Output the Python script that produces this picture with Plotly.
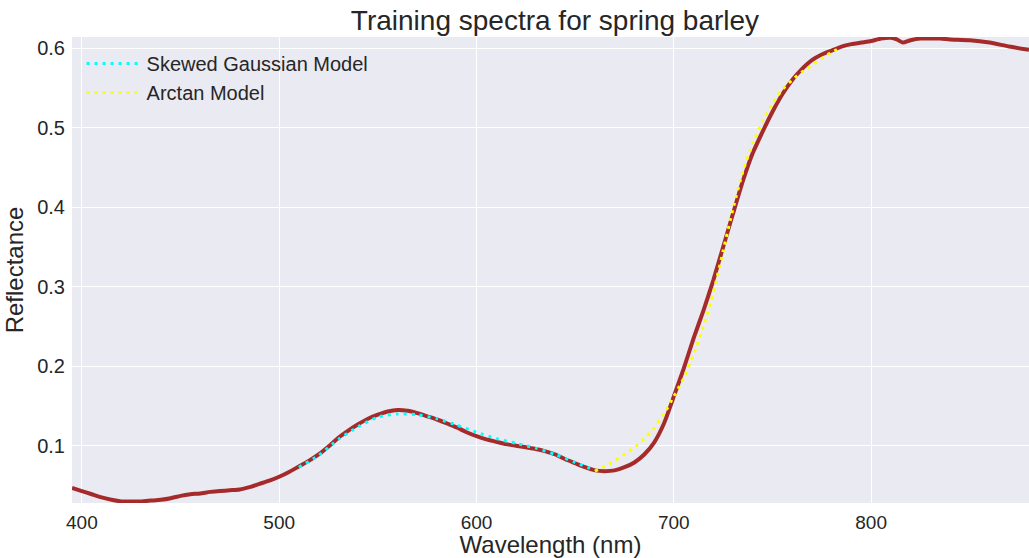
import plotly.graph_objects as go

# Measured spectrum
wl = [395, 400, 405, 410, 415, 420, 425, 430, 435, 440, 445, 450, 455, 460, 465, 470, 475, 480, 485, 490,
      495, 500, 505, 510, 515, 520, 525, 530, 535, 540, 545, 550, 555, 560, 565, 570, 575, 580, 585, 590,
      595, 600, 605, 610, 615, 620, 625, 630, 635, 640, 645, 650, 655, 660, 665, 670, 675, 680, 685, 690,
      695, 700, 705, 710, 715, 720, 725, 730, 735, 740, 745, 750, 755, 760, 765, 770, 775, 780, 785, 790,
      795, 800, 805, 810, 813, 816, 820, 825, 830, 835, 840, 850, 860, 870, 880]
refl = [0.047, 0.043, 0.039, 0.035, 0.032, 0.030, 0.030, 0.030, 0.031, 0.032, 0.034, 0.037, 0.039, 0.040, 0.042, 0.043, 0.044, 0.045, 0.048, 0.052,
        0.056, 0.061, 0.067, 0.074, 0.081, 0.089, 0.099, 0.110, 0.119, 0.127, 0.134, 0.139, 0.143, 0.145, 0.144, 0.141, 0.137, 0.133, 0.128, 0.123,
        0.117, 0.112, 0.108, 0.105, 0.102, 0.100, 0.098, 0.096, 0.093, 0.089, 0.083, 0.078, 0.073, 0.069, 0.068, 0.069, 0.073, 0.079, 0.089, 0.104,
        0.128, 0.162, 0.197, 0.235, 0.270, 0.308, 0.350, 0.392, 0.433, 0.468, 0.495, 0.520, 0.542, 0.560, 0.574, 0.585, 0.592, 0.597, 0.602, 0.605,
        0.607, 0.609, 0.612, 0.613, 0.611, 0.607, 0.610, 0.612, 0.612, 0.612, 0.611, 0.610, 0.607, 0.602, 0.598]

# Skewed Gaussian model
sg_wl = [510, 520, 530, 540, 550, 560, 570, 580, 590, 600, 610, 620, 630, 640, 650, 660]
sg_val = [0.073, 0.088, 0.108, 0.124, 0.136, 0.140, 0.139, 0.134, 0.126, 0.117, 0.109, 0.103, 0.097, 0.089, 0.079, 0.069]

# Arctan model
at_wl = [660, 665, 670, 675, 680, 685, 690, 695, 700, 705, 710, 715, 720, 725, 730, 735, 740, 745, 750, 755,
         760, 765, 770, 775, 780, 785]
at_val = [0.068, 0.074, 0.081, 0.089, 0.098, 0.109, 0.122, 0.140, 0.162, 0.185, 0.215, 0.250, 0.292, 0.345, 0.398, 0.445, 0.480, 0.508, 0.530, 0.548,
          0.560, 0.570, 0.578, 0.587, 0.595, 0.601]

x_ticks = [400, 500, 600, 700, 800]
y_ticks = [0.1, 0.2, 0.3, 0.4, 0.5, 0.6]

FONT = "Liberation Sans, Arial, sans-serif"
TXT = "#262626"

fig = go.Figure()
fig.add_trace(go.Scatter(x=wl, y=refl, mode="lines", showlegend=False,
                         line=dict(color="#A52A2A", width=4, shape="spline", smoothing=0.6)))
fig.add_trace(go.Scatter(x=sg_wl, y=sg_val, mode="lines", name="Skewed Gaussian Model",
                         line=dict(color="#00FFFF", width=3, dash="3px,5px", shape="spline", smoothing=0.6)))
fig.add_trace(go.Scatter(x=at_wl, y=at_val, mode="lines", name="Arctan Model",
                         line=dict(color="#FFFF00", width=3, dash="3px,5px", shape="spline", smoothing=0.6)))

fig.update_layout(
    width=1029, height=558,
    margin=dict(l=72, r=0, t=37, b=55, autoexpand=False),
    paper_bgcolor="white", plot_bgcolor="#EAEAF2",
    font=dict(family=FONT, color=TXT, size=20),
    title=dict(text="Training spectra for spring barley", x=555 / 1029, xref="container", xanchor="center",
               y=1 - 20 / 558, yref="container", yanchor="middle", font=dict(size=28, color=TXT)),
    legend=dict(x=0.01, y=0.985, xanchor="left", yanchor="top", bgcolor="rgba(0,0,0,0)",
                font=dict(size=20, color=TXT), itemwidth=55, tracegroupgap=0),
    xaxis=dict(range=[395, 880], tickvals=x_ticks, showgrid=True, gridcolor="white", gridwidth=1,
               zeroline=False, showline=False, ticks="", tickfont=dict(size=19, color=TXT), automargin=False,
               ticklabelstandoff=6,
               title=dict(text="Wavelength (nm)", font=dict(size=24, color=TXT), standoff=5)),
    yaxis=dict(range=[0.028, 0.614], tickvals=y_ticks, showgrid=True, gridcolor="white", gridwidth=1,
               zeroline=False, showline=False, ticks="", tickfont=dict(size=20, color=TXT), automargin=False,
               ticklabelstandoff=6,
               title=dict(text="Reflectance", font=dict(size=24, color=TXT), standoff=6)),
)

fig.write_html("out.html", config={"displayModeBar": False})
with open("out.html", encoding="utf-8") as f:
    html = f.read()
html = html.replace("<head>", "<head><style>html,body{margin:0;padding:0;overflow:hidden;}</style>", 1)
with open("out.html", "w", encoding="utf-8") as f:
    f.write(html)
